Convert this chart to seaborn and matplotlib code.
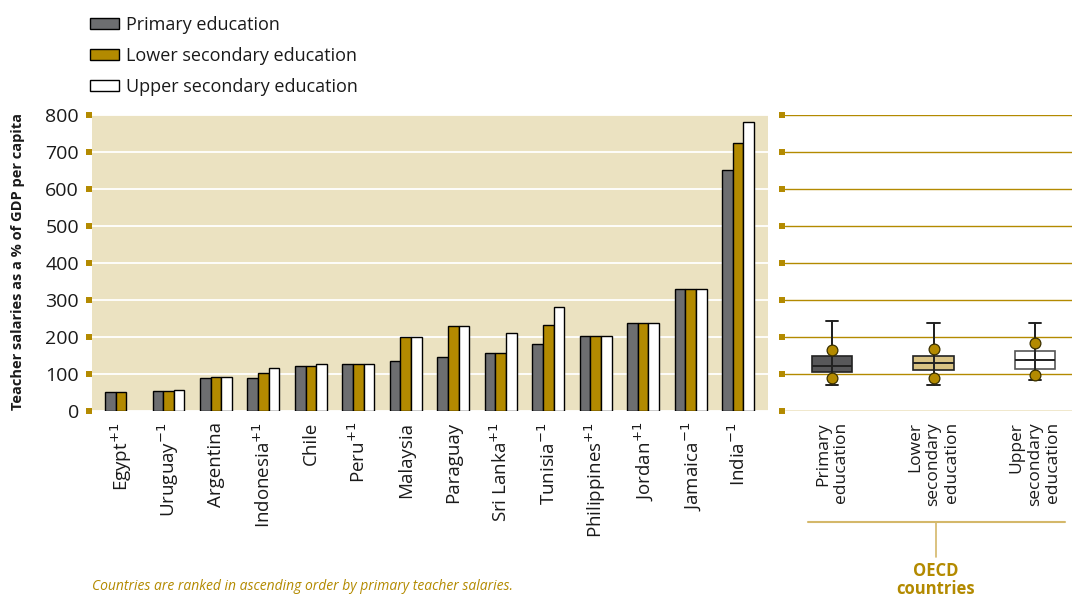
import numpy as np
import pandas as pd
import matplotlib
matplotlib.use("Agg")
import matplotlib.pyplot as plt
import seaborn as sns

# ---- data ----
countries = ["Egypt$^{+1}$", "Uruguay$^{-1}$", "Argentina", "Indonesia$^{+1}$", "Chile",
             "Peru$^{+1}$", "Malaysia", "Paraguay", "Sri Lanka$^{+1}$", "Tunisia$^{-1}$",
             "Philippines$^{+1}$", "Jordan$^{+1}$", "Jamaica$^{-1}$", "India$^{-1}$"]
primary = [51, 54, 90, 90, 121, 128, 135, 146, 158, 181, 202, 238, 331, 652]
lower_sec = [51, 54, 92, 104, 121, 128, 199, 230, 158, 232, 202, 238, 331, 723]
upper_sec = [np.nan, 58, 92, 115, 127, 128, 199, 230, 210, 282, 202, 238, 331, 780]
levels = ["Primary education", "Lower secondary education", "Upper secondary education"]

# OECD distribution (box plot summary) per level
oecd_labels = ["Primary\neducation", "Lower\nsecondary\neducation", "Upper\nsecondary\neducation"]
oecd_whislo = [71, 71, 85]
oecd_q1 = [105, 112, 114]
oecd_med = [122, 130, 139]
oecd_q3 = [148, 148, 162]
oecd_whishi = [244, 237, 237]
oecd_dot_hi = [165, 167, 183]
oecd_dot_lo = [90, 90, 98]

GOLD = "#B38A00"
GRAY = "#6D6E70"
BEIGE = "#EBE2C1"
TEXT = "#1a1a1a"

sns.set_style("white")
plt.rcParams["font.family"] = ["Open Sans", "DejaVu Sans"]

df = pd.DataFrame({
    "country": countries * 3,
    "value": primary + lower_sec + upper_sec,
    "level": [levels[0]] * 14 + [levels[1]] * 14 + [levels[2]] * 14,
})

fig = plt.figure(figsize=(10.72, 5.96), dpi=100)
W, H = 1072, 596
ax = fig.add_axes([92 / W, 1 - 411 / H, (768 - 92) / W, (411 - 115) / H])
ax2 = fig.add_axes([785 / W, 1 - 411 / H, (1072 - 785) / W, (411 - 115) / H])

# ---- left panel: country bars ----
sns.barplot(data=df, x="country", y="value", hue="level",
            palette=[GRAY, GOLD, "white"], saturation=1, edgecolor="black",
            linewidth=1.0, width=0.67, gap=0, ax=ax, legend=True)
ax.set_facecolor(BEIGE)
ax.set_ylim(0, 800)
ax.set_xlim(-0.61, 13.63)
ax.set_yticks(range(0, 801, 100))
ax.set_axisbelow(True)
ax.yaxis.grid(True, color="white", linewidth=1.3)
for s in ax.spines.values():
    s.set_visible(False)
ax.set_xlabel("")
ax.set_ylabel("")
ax.tick_params(axis="y", direction="out", length=4.3, width=4.3, color=GOLD,
               pad=5, labelsize=14, labelcolor=TEXT, left=True)
ax.tick_params(axis="x", length=0, pad=8, labelsize=13.5, labelcolor=TEXT, rotation=90)
for lab in ax.get_xticklabels():
    lab.set_verticalalignment("top")

handles, labels = ax.get_legend_handles_labels()
ax.get_legend().remove()
fig.legend(handles, labels, loc="upper left", bbox_to_anchor=(90 / W, 1 - 16 / H),
           frameon=False, fontsize=13, handlelength=1.6, handleheight=0.55,
           handletextpad=0.4, labelspacing=0.72, borderpad=0, borderaxespad=0,
           labelcolor=TEXT)

fig.text(18 / W, 1 - 262 / H, "Teacher salaries as a % of GDP per capita",
         rotation=90, ha="center", va="center", fontsize=10.5, fontweight="bold",
         color=TEXT)

# ---- right panel: OECD box plots ----
pos = np.arange(3)
stats = [dict(whislo=oecd_whislo[i], q1=oecd_q1[i], med=oecd_med[i],
              q3=oecd_q3[i], whishi=oecd_whishi[i], fliers=[]) for i in range(3)]
ax2.vlines(pos, oecd_whislo, oecd_whishi, color="#222222", linewidth=1.4, zorder=4)
bp = ax2.bxp(stats, positions=pos, widths=0.40, patch_artist=True,
             showfliers=False, capwidths=0.12, manage_ticks=False,
             boxprops=dict(linewidth=1.2),
             whiskerprops=dict(color="#222222", linewidth=1.4),
             capprops=dict(color="#222222", linewidth=1.4),
             medianprops=dict(color="#222222", linewidth=1.4))
box_faces = ["#58585A", "#D9C384", "white"]
box_edges = ["#222222", "#222222", "#555555"]
for patch, fc, ec in zip(bp["boxes"], box_faces, box_edges):
    patch.set_facecolor(fc)
    patch.set_edgecolor(ec)
    patch.set_zorder(3)
for med in bp["medians"]:
    med.set_zorder(5)
ax2.scatter(pos, oecd_dot_hi, s=60, color=GOLD, edgecolor="#3a3000", linewidth=0.9, zorder=6)
ax2.scatter(pos, oecd_dot_lo, s=60, color=GOLD, edgecolor="#3a3000", linewidth=0.9, zorder=6)

ax2.set_ylim(0, 800)
ax2.set_xlim(-0.463, 2.364)
ax2.set_yticks(range(0, 801, 100))
ax2.yaxis.grid(True, color=GOLD, linewidth=1.0)
ax2.set_axisbelow(True)
for s in ax2.spines.values():
    s.set_visible(False)
ax2.tick_params(axis="y", direction="out", length=4.3, width=4.3, color=GOLD,
                labelleft=False, left=True)
ax2.set_xticks(pos)
ax2.set_xticklabels(oecd_labels, rotation=90, va="top", multialignment="right",
                    fontsize=12.5, color=TEXT)
ax2.tick_params(axis="x", length=0, pad=8)

# bracket under the OECD labels
bracket_color = "#D4B86A"
fig.add_artist(plt.Line2D([808 / W, 1065 / W], [1 - 522 / H, 1 - 522 / H],
                          color=bracket_color, linewidth=1.5))
fig.add_artist(plt.Line2D([936 / W, 936 / W], [1 - 522 / H, 1 - 557 / H],
                          color=bracket_color, linewidth=1.2))
fig.text(936 / W, 1 - 562 / H, "OECD\ncountries", ha="center", va="top",
         fontsize=12, fontweight="bold", color=GOLD, linespacing=1.0)

fig.text(92 / W, 1 - 579 / H,
         "Countries are ranked in ascending order by primary teacher salaries.",
         ha="left", va="top", fontsize=10, style="italic", color=GOLD)

fig.savefig("out.png", dpi=100)
